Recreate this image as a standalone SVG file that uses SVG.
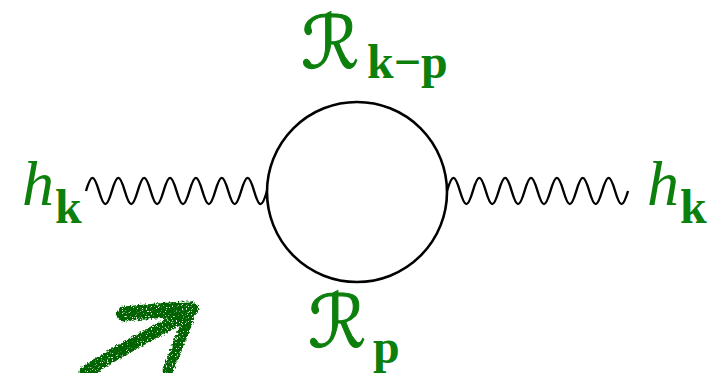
<svg xmlns="http://www.w3.org/2000/svg" width="708" height="373" viewBox="0 0 708 373">
<style>
.lbl{fill:#0c7f0c;font-family:"Liberation Serif","Times New Roman",serif}
.it{font-style:italic;font-size:64px}
.sub{font-weight:bold;font-size:48px}
.scr{font-family:"DejaVu Serif","DejaVu Sans",serif;font-style:italic;font-size:73px;fill:#0c7f0c;stroke:#0c7f0c;stroke-width:1}
.wave{fill:none;stroke:#000;stroke-width:2.4}
.crayon{fill:none;stroke:#006400;stroke-linecap:round;stroke-linejoin:round}
</style>
<defs>
<filter id="crayonF" x="-20%" y="-20%" width="140%" height="140%">
<feTurbulence type="fractalNoise" baseFrequency="0.45" numOctaves="2" seed="3" result="n"/>
<feDisplacementMap in="SourceGraphic" in2="n" scale="5" xChannelSelector="R" yChannelSelector="G" result="d"/>
<feTurbulence type="fractalNoise" baseFrequency="0.8" numOctaves="1" seed="9" result="n2"/>
<feColorMatrix in="n2" type="matrix" values="0 0 0 0 0  0 0 0 0 0  0 0 0 0 0  10 0 0 0 -2.9" result="holes"/>
<feComposite in="d" in2="holes" operator="in"/>
</filter>
</defs>
<g id="connectors">
<path id="wave-left" class="wave" d="M86,191 c5.17,-17.5 7.76,-17.5 12.93,0 s7.76,17.5 12.93,0 s7.76,-17.5 12.93,0 s7.76,17.5 12.93,0 s7.76,-17.5 12.93,0 s7.76,17.5 12.93,0 s7.76,-17.5 12.93,0 s7.76,17.5 12.93,0 s7.76,-17.5 12.93,0 s7.76,17.5 12.93,0 s7.76,-17.5 12.93,0 s7.76,17.5 12.93,0 s7.76,-17.5 12.93,0 s7.76,17.5 12.93,0"/>
<path id="wave-right" class="wave" d="M447,191 c5.17,-17.5 7.76,-17.5 12.93,0 s7.76,17.5 12.93,0 s7.76,-17.5 12.93,0 s7.76,17.5 12.93,0 s7.76,-17.5 12.93,0 s7.76,17.5 12.93,0 s7.76,-17.5 12.93,0 s7.76,17.5 12.93,0 s7.76,-17.5 12.93,0 s7.76,17.5 12.93,0 s7.76,-17.5 12.93,0 s7.76,17.5 12.93,0 s7.76,-17.5 12.93,0 s7.76,17.5 12.93,0"/>
</g>
<g id="loop">
<circle cx="357" cy="192" r="90" fill="none" stroke="#000" stroke-width="2.6"/>
</g>
<g id="label-h-left">
<text class="lbl it" x="22" y="205">h</text>
<text class="lbl sub" x="55" y="223">k</text>
</g>
<g id="label-h-right">
<text class="lbl it" x="647" y="205">h</text>
<text class="lbl sub" x="680" y="223">k</text>
</g>
<g id="label-top">
<text class="scr" x="301" y="68">ℛ</text>
<text class="lbl sub" x="367" y="78">k−p</text>
</g>
<g id="label-bottom">
<text class="scr" x="308" y="347">ℛ</text>
<text class="lbl sub" x="373" y="363">p</text>
</g>
<g id="arrow" filter="url(#crayonF)">
<path class="crayon" stroke-width="13" d="M86,372 C115,352 150,335 180,318"/>
<path class="crayon" stroke-width="15" d="M124,314 C145,312 170,309 191,309"/>
<path class="crayon" stroke-width="11" d="M191,310 C185,330 176,350 168,370"/>
</g>
</svg>
